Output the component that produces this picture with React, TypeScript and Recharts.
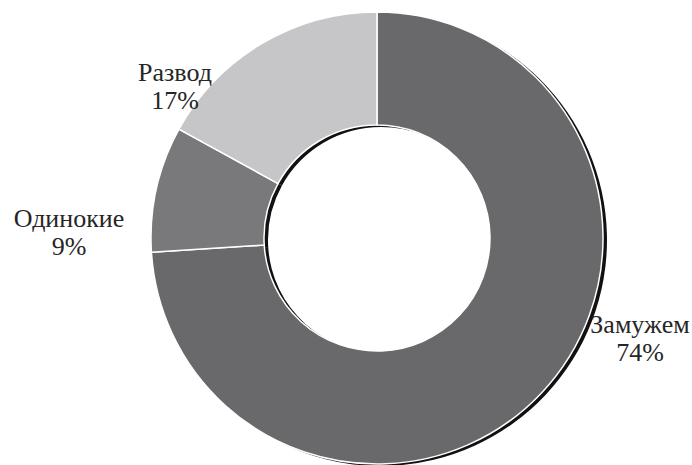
import { PieChart, Pie, Cell } from 'recharts'

const categories = ['Замужем', 'Одинокие', 'Развод']
const shares = [74, 9, 17]
const colors = ['#69696b', '#79797b', '#c6c6c8']

const data = categories.map((name, i) => ({ name, value: shares[i] }))

// label offsets from the ring centre (first line baseline)
const labelSpots: Record<string, { dx: number; dy: number }> = {
  'Замужем': { dx: 263, dy: 95 },
  'Одинокие': { dx: -308, dy: -11 },
  'Развод': { dx: -202, dy: -157 },
}

const serif = '"Liberation Serif", "DejaVu Serif", serif'

const renderLabel = (props: any) => {
  const { cx, cy, name, value } = props
  const spot = labelSpots[name]
  const x = cx + spot.dx
  const y = cy + spot.dy
  return (
    <g key={name}>
      <text x={x} y={y} textAnchor="middle" fill="#262626" style={{ fontFamily: serif, fontSize: '26px' }}>
        {name}
      </text>
      <text x={x} y={y + 28} textAnchor="middle" fill="#262626" style={{ fontFamily: serif, fontSize: '26px' }}>
        {value}%
      </text>
    </g>
  )
}

export default function App() {
  return (
    <div style={{ position: 'fixed', left: 0, top: 0, width: 692, height: 465, background: '#fff' }}>
      <PieChart width={692} height={465} margin={{ top: 0, right: 0, bottom: 0, left: 0 }}>
        {/* drop shadow ring behind the donut */}
        <Pie
          data={data}
          dataKey="value"
          cx={381}
          cy={240}
          innerRadius={113}
          outerRadius={226}
          startAngle={90}
          endAngle={-270}
          stroke="none"
          fill="#111"
          isAnimationActive={false}
        />
        <Pie
          data={data}
          dataKey="value"
          nameKey="name"
          cx={377}
          cy={238}
          innerRadius={113}
          outerRadius={226}
          startAngle={90}
          endAngle={-270}
          stroke="#ffffff"
          strokeWidth={1.5}
          label={renderLabel}
          labelLine={false}
          isAnimationActive={false}
        >
          {data.map((d, i) => (
            <Cell key={d.name} fill={colors[i]} />
          ))}
        </Pie>
      </PieChart>
    </div>
  )
}
